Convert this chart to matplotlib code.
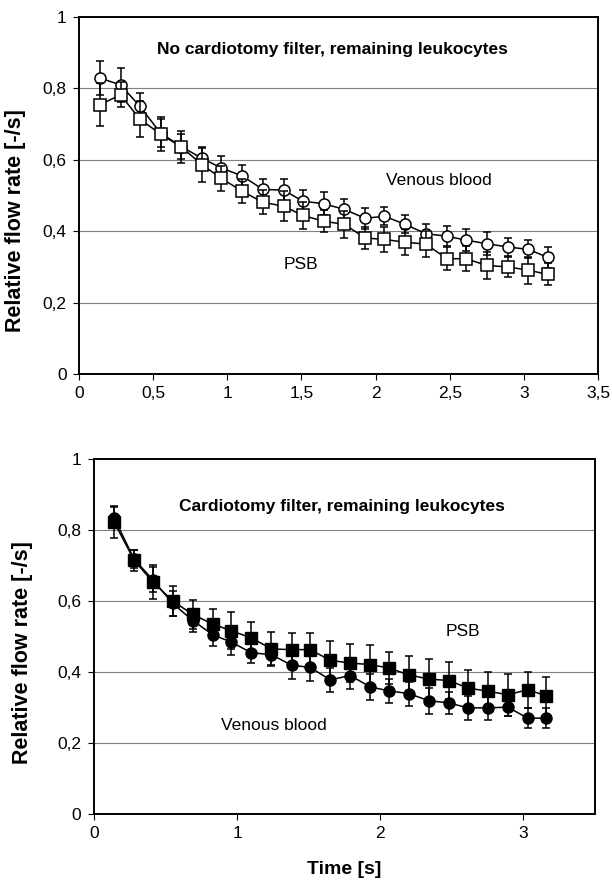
import matplotlib
matplotlib.use("Agg")
import matplotlib.pyplot as plt

plt.rcParams['font.family'] = ['Liberation Sans', 'DejaVu Sans']

# Time points [s]
time_s = [0.14, 0.28, 0.41, 0.55, 0.69, 0.83, 0.96, 1.10, 1.24, 1.38, 1.51, 1.65,
          1.79, 1.93, 2.06, 2.20, 2.34, 2.48, 2.61, 2.75, 2.89, 3.03, 3.16]

# Top panel: no cardiotomy filter
nf_venous = [0.829, 0.810, 0.750, 0.675, 0.637, 0.604, 0.577, 0.555, 0.517, 0.515, 0.484, 0.477,
             0.461, 0.436, 0.442, 0.419, 0.393, 0.386, 0.375, 0.365, 0.356, 0.349, 0.327]
nf_venous_err = [0.048, 0.048, 0.036, 0.040, 0.035, 0.033, 0.034, 0.031, 0.030, 0.030, 0.031, 0.032,
                 0.028, 0.029, 0.025, 0.025, 0.028, 0.028, 0.030, 0.032, 0.025, 0.025, 0.029]
nf_psb = [0.754, 0.782, 0.714, 0.672, 0.636, 0.586, 0.548, 0.512, 0.481, 0.470, 0.444, 0.428,
          0.419, 0.381, 0.377, 0.369, 0.364, 0.323, 0.323, 0.304, 0.300, 0.291, 0.279]
nf_psb_err = [0.060, 0.035, 0.050, 0.048, 0.045, 0.048, 0.036, 0.034, 0.034, 0.042, 0.039, 0.031,
              0.038, 0.031, 0.036, 0.036, 0.037, 0.033, 0.035, 0.037, 0.029, 0.038, 0.031]

# Bottom panel: cardiotomy filter
cf_venous = [0.835, 0.718, 0.660, 0.593, 0.545, 0.505, 0.484, 0.454, 0.449, 0.419, 0.413, 0.378,
             0.390, 0.358, 0.347, 0.339, 0.319, 0.313, 0.299, 0.299, 0.301, 0.270, 0.270]
cf_venous_err = [0.030, 0.025, 0.035, 0.035, 0.033, 0.033, 0.037, 0.029, 0.030, 0.039, 0.037, 0.034,
                 0.037, 0.036, 0.034, 0.034, 0.037, 0.031, 0.033, 0.033, 0.025, 0.028, 0.028]
cf_psb = [0.823, 0.715, 0.654, 0.600, 0.562, 0.535, 0.516, 0.496, 0.465, 0.463, 0.463, 0.433,
          0.425, 0.421, 0.411, 0.392, 0.380, 0.376, 0.355, 0.346, 0.336, 0.350, 0.333]
cf_psb_err = [0.045, 0.030, 0.047, 0.043, 0.040, 0.042, 0.052, 0.046, 0.049, 0.047, 0.047, 0.053,
              0.054, 0.054, 0.045, 0.052, 0.057, 0.051, 0.050, 0.054, 0.059, 0.050, 0.053]

y_ticks = [0, 0.2, 0.4, 0.6, 0.8, 1.0]
y_ticklabels = ["0", "0,2", "0,4", "0,6", "0,8", "1"]
top_x_ticks = [0, 0.5, 1, 1.5, 2, 2.5, 3, 3.5]
top_x_ticklabels = ["0", "0,5", "1", "1,5", "2", "2,5", "3", "3,5"]
bot_x_ticks = [0, 1, 2, 3]
bot_x_ticklabels = ["0", "1", "2", "3"]

W, H = 612, 882
fig = plt.figure(figsize=(W / 100, H / 100), dpi=100)

def px_axes(l, r, t, b):
    return fig.add_axes([l / W, 1 - b / H, (r - l) / W, (b - t) / H])

ax1 = px_axes(79, 598, 17, 374)
ax2 = px_axes(94, 595, 459, 814)

def style(ax, xticks, xlabels, label_xy):
    ax.set_xlim(0, 3.5)
    ax.set_ylim(0, 1)
    ax.set_yticks(y_ticks)
    ax.set_yticklabels(y_ticklabels)
    ax.set_xticks(xticks)
    ax.set_xticklabels(xlabels)
    ax.tick_params(direction='out', length=4, width=0.8, labelsize=12.5, colors='black', pad=5)
    for s in ax.spines.values():
        s.set_linewidth(1.4)
        s.set_color('black')
    for yv in y_ticks[1:-1]:
        ax.axhline(yv, color='#808080', lw=0.8, zorder=0)
    ax.set_ylabel("Relative flow rate [-/s]", fontsize=15.5, fontweight='bold')
    ax.yaxis.set_label_coords(*label_xy)

ebkw = dict(color='black', ecolor='black', elinewidth=1.1, capsize=3.2, capthick=1.1, lw=1.1)

ax1.errorbar(time_s, nf_venous, yerr=nf_venous_err, marker='o', ms=8, mfc='white', mec='black',
             mew=1.1, zorder=3, **ebkw)
ax1.errorbar(time_s, nf_psb, yerr=nf_psb_err, marker='s', ms=8, mfc='white', mec='black',
             mew=1.1, zorder=4, **ebkw)
style(ax1, top_x_ticks, top_x_ticklabels, (-0.102, 0.43))
ax1.text(1.71, 0.908, "No cardiotomy filter, remaining leukocytes", ha='center', va='center',
         fontsize=12.5, fontweight='bold')
ax1.text(2.43, 0.543, "Venous blood", ha='center', va='center', fontsize=12.5)
ax1.text(1.50, 0.308, "PSB", ha='center', va='center', fontsize=12.5)

ax2.errorbar(time_s, cf_venous, yerr=cf_venous_err, marker='o', ms=8, mfc='black', mec='black',
             zorder=3, **ebkw)
ax2.errorbar(time_s, cf_psb, yerr=cf_psb_err, marker='s', ms=8, mfc='black', mec='black',
             zorder=4, **ebkw)
style(ax2, bot_x_ticks, bot_x_ticklabels, (-0.122, 0.455))
ax2.text(1.73, 0.865, "Cardiotomy filter, remaining leukocytes", ha='center', va='center',
         fontsize=12.5, fontweight='bold')
ax2.text(2.58, 0.513, "PSB", ha='center', va='center', fontsize=12.5)
ax2.text(1.26, 0.25, "Venous blood", ha='center', va='center', fontsize=12.5)
ax2.set_xlabel("Time [s]", fontsize=14, fontweight='bold', labelpad=14)

fig.savefig("out.png", dpi=100)
